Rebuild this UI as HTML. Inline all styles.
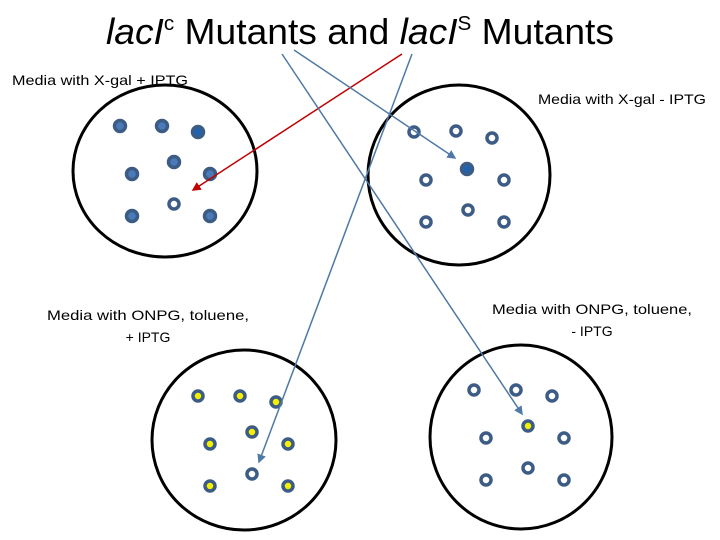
<!DOCTYPE html>
<html><head><meta charset="utf-8"><style>
html,body{margin:0;padding:0;background:#fff;}
svg{display:block;}
text{font-family:"Liberation Sans",sans-serif;}
</style></head><body>
<svg width="720" height="540" viewBox="0 0 720 540" xmlns="http://www.w3.org/2000/svg">
<defs>
<marker id="ab" markerWidth="6" markerHeight="6" refX="5" refY="3" orient="auto"><path d="M0,0 L6,3 L0,6 z" fill="#4f7aa6"/></marker>
<marker id="ar" markerWidth="6" markerHeight="6" refX="5" refY="3" orient="auto"><path d="M0,0 L6,3 L0,6 z" fill="#c00000"/></marker>
</defs>
<text x="360" y="44" font-size="36" text-anchor="middle" fill="#000" textLength="508" lengthAdjust="spacingAndGlyphs"><tspan font-style="italic">lacI</tspan><tspan font-size="20" dy="-14">c</tspan><tspan dy="14"> Mutants and </tspan><tspan font-style="italic">lacI</tspan><tspan font-size="20" dy="-14">S</tspan><tspan dy="14"> Mutants</tspan></text>
<text x="12" y="85" font-size="14" textLength="176" lengthAdjust="spacingAndGlyphs">Media with X-gal + IPTG</text>
<text x="538" y="104" font-size="14" textLength="168" lengthAdjust="spacingAndGlyphs">Media with X-gal - IPTG</text>
<text x="148" y="320" font-size="14" text-anchor="middle" textLength="202" lengthAdjust="spacingAndGlyphs">Media with ONPG, toluene,</text>
<text x="148" y="342" font-size="14" text-anchor="middle">+ IPTG</text>
<text x="592" y="314" font-size="14" text-anchor="middle" textLength="200" lengthAdjust="spacingAndGlyphs">Media with ONPG, toluene,</text>
<text x="592" y="336" font-size="14" text-anchor="middle">- IPTG</text>
<g fill="none" stroke="#000" stroke-width="3">
<ellipse cx="165" cy="171" rx="92" ry="86"/>
<ellipse cx="459" cy="175" rx="91" ry="90"/>
<ellipse cx="244" cy="440" rx="92" ry="90"/>
<ellipse cx="521" cy="437" rx="91" ry="92"/>
</g>
<g stroke="#3d5c85" stroke-width="3.5">
<g fill="#4a7ab8">
<circle cx="120" cy="126" r="5.5"/><circle cx="162" cy="126" r="5.5"/><circle cx="174" cy="162" r="5.5"/><circle cx="132" cy="174" r="5.5"/><circle cx="210" cy="174" r="5.5"/><circle cx="132" cy="216" r="5.5"/><circle cx="210" cy="216" r="5.5"/>
</g>
<circle cx="198" cy="132" r="5.5" fill="#1f63b0"/>
<circle cx="467" cy="169" r="5.5" fill="#1f63b0"/>
<g fill="#fff">
<circle cx="174" cy="204" r="5"/>
<circle cx="414" cy="132" r="5"/><circle cx="456" cy="131" r="5"/><circle cx="492" cy="138" r="5"/><circle cx="426" cy="180" r="5"/><circle cx="504" cy="180" r="5"/><circle cx="426" cy="222" r="5"/><circle cx="468" cy="210" r="5"/><circle cx="504" cy="222" r="5"/>
<circle cx="252" cy="474" r="5"/>
<circle cx="474" cy="390" r="5"/><circle cx="516" cy="390" r="5"/><circle cx="552" cy="396" r="5"/><circle cx="486" cy="438" r="5"/><circle cx="564" cy="438" r="5"/><circle cx="486" cy="480" r="5"/><circle cx="528" cy="468" r="5"/><circle cx="564" cy="480" r="5"/>
</g>
<g fill="#f5f000">
<circle cx="198" cy="396" r="5"/><circle cx="240" cy="396" r="5"/><circle cx="276" cy="402" r="5"/><circle cx="252" cy="432" r="5"/><circle cx="210" cy="444" r="5"/><circle cx="288" cy="444" r="5"/><circle cx="210" cy="486" r="5"/><circle cx="288" cy="486" r="5"/>
<circle cx="528" cy="426" r="5"/>
</g>
</g>
<g stroke-width="1.5" fill="none">
<line x1="402" y1="54" x2="193" y2="190" stroke="#c00000" marker-end="url(#ar)"/>
<line x1="294" y1="50" x2="455" y2="158" stroke="#4f7aa6" marker-end="url(#ab)" />
<line x1="282" y1="54" x2="522" y2="414" stroke="#4f7aa6" marker-end="url(#ab)"/>
<line x1="412" y1="54" x2="259" y2="462" stroke="#4f7aa6" marker-end="url(#ab)"/>
</g>
</svg>
</body></html>
